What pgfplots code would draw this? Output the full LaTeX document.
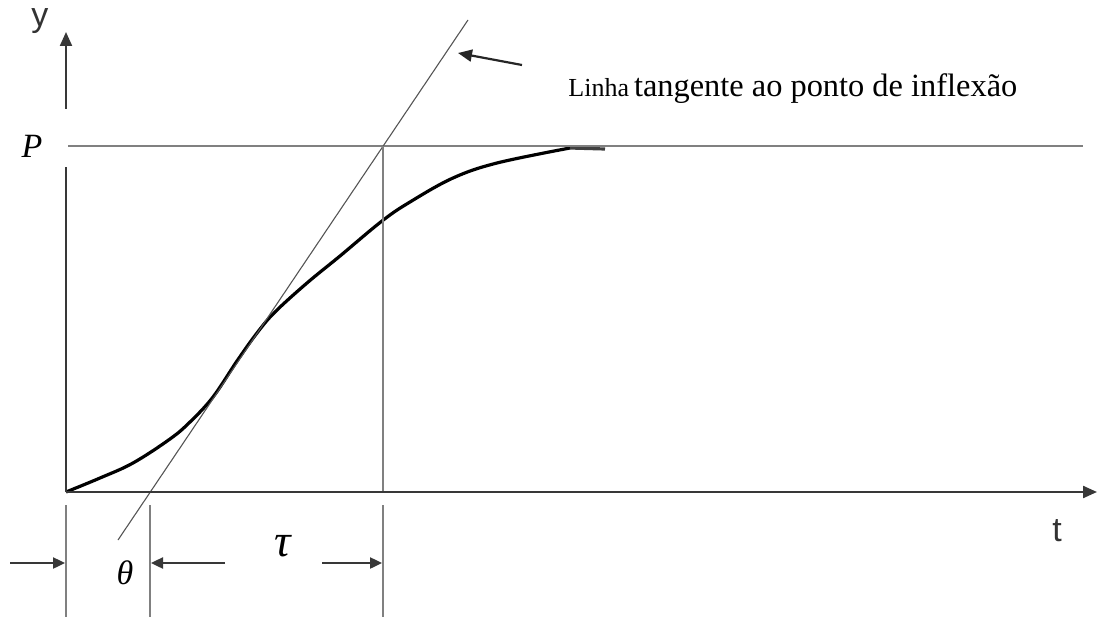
\documentclass[border=0pt]{standalone}
\usepackage{fontspec}
\setmainfont{Liberation Serif}
\setsansfont{Liberation Sans}
\usepackage{pgfplots}
\pgfplotsset{compat=1.18}
\usetikzlibrary{arrows.meta}

\definecolor{axisgray}{HTML}{383838}
\definecolor{linegray}{HTML}{808080}
\definecolor{thingray}{HTML}{555555}

\begin{document}
\begin{tikzpicture}
\begin{axis}[
  scale only axis,
  width=549pt, height=308.5pt,
  xmin=0, xmax=1098, ymin=0, ymax=617,
  hide axis, clip=false,
]
% process response (S-shaped curve)
\addplot[black, line width=1.6pt, smooth, tension=0.6] coordinates {
  (66,125) (100,139) (133,154) (170,178) (190,195) (213,220) (237,256)
  (257,284) (275,305) (307,334) (340,361) (382,396) (410,415) (453,439)
  (497,454) (570,469)
};
\addplot[black!75, line width=1.6pt] coordinates {(570,469) (605,468)};

% final value P
\addplot[linegray, line width=1.1pt] coordinates {(68,471) (1083,471)};

% tangent at the inflection point
\addplot[thingray, line width=0.55pt] coordinates {(118,77) (468,597)};

% vertical guides
\addplot[linegray, line width=0.85pt] coordinates {(383,471) (383,125)};
\addplot[linegray, line width=0.85pt] coordinates {(383,112) (383,0)};
\addplot[linegray, line width=0.85pt] coordinates {(150,112) (150,0)};
\addplot[linegray, line width=0.85pt] coordinates {(66,112) (66,0)};

% axes
\addplot[axisgray, line width=1.1pt] coordinates {(66,125) (66,450)};
\draw[axisgray, line width=1.1pt, -{Triangle[length=7pt,width=6pt]}]
  (axis cs:66,508) -- (axis cs:66,585);
\draw[axisgray, line width=1.1pt, -{Triangle[length=7pt,width=6pt]}]
  (axis cs:66,125) -- (axis cs:1097,125);

% dimension arrows for theta and tau
\draw[axisgray, line width=1.2pt, -{Triangle[length=6pt,width=5.5pt]}]
  (axis cs:10,54) -- (axis cs:65,54);
\draw[axisgray, line width=1.2pt, -{Triangle[length=6pt,width=5.5pt]}]
  (axis cs:225,54) -- (axis cs:151,54);
\draw[axisgray, line width=1.2pt, -{Triangle[length=6pt,width=5.5pt]}]
  (axis cs:322,54) -- (axis cs:382,54);

% annotation arrow
\draw[black!85, line width=1.1pt, -{Triangle[length=7pt,width=6pt]}]
  (axis cs:522,552) -- (axis cs:458,564);

% labels
\node[font=\sffamily\fontsize{17}{17}\selectfont, text=black!80] at (axis cs:40,596) {y};
\node[font=\sffamily\fontsize{17}{17}\selectfont, text=black!80] at (axis cs:1057,86) {t};
\node[font=\fontsize{17}{17}\selectfont] at (axis cs:32,471) {\textit{P}};
\node[font=\fontsize{17}{17}\selectfont] at (axis cs:125,44) {\textit{θ}};
\node[font=\fontsize{23}{23}\selectfont] at (axis cs:283,71) {\textit{τ}};
\node[anchor=base west, inner sep=0pt] at (axis cs:568,520)
  {{\fontsize{13}{13}\selectfont Linha} {\fontsize{16.2}{16.2}\selectfont tangente ao ponto de inflexão}};
\end{axis}
\pgfresetboundingbox
\path (0,0) rectangle (549pt,308.5pt);
\end{tikzpicture}
\end{document}
